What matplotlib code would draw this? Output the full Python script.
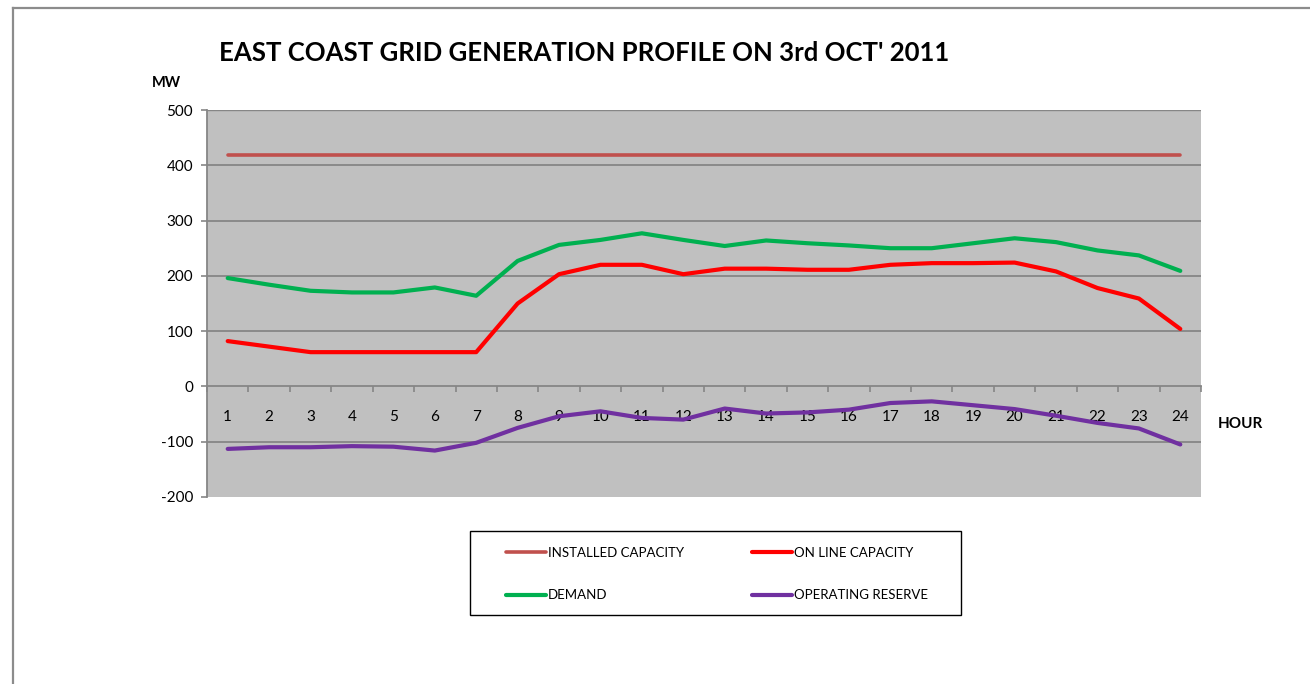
import matplotlib.pyplot as plt
from matplotlib.patches import Rectangle
from matplotlib.lines import Line2D
import numpy as np

plt.rcParams['font.family'] = ['Lato', 'DejaVu Sans']
plt.rcParams['axes.unicode_minus'] = False

hours = list(range(1, 25))
installed = [418] * 24
online = [82, 72, 62, 62, 62, 62, 62, 150, 203, 220, 220, 203,
          213, 213, 211, 211, 220, 223, 223, 224, 208, 178, 159, 104]
demand = [196, 184, 173, 170, 170, 179, 164, 227, 256, 265, 277, 265,
          254, 264, 259, 255, 250, 250, 259, 268, 261, 246, 237, 209]
reserve = [-113, -110, -110, -108, -109, -116, -102, -75, -54, -45, -57, -60,
           -40, -49, -47, -42, -30, -27, -34, -41, -53, -66, -76, -105]
yticks = [-200, -100, 0, 100, 200, 300, 400, 500]

W, H = 1310, 684
fig = plt.figure(figsize=(W / 100, H / 100), dpi=100)
ax = fig.add_axes([207 / W, 1 - 497 / H, (1201 - 207) / W, (497 - 110) / H])

grid_c = '#868686'
ax.set_facecolor('#C0C0C0')
ax.set_xlim(0.5, 24.5)
ax.set_ylim(-200, 500)
ax.set_yticks(yticks)
for y in yticks:
    if y not in (0, -200, 500):
        ax.axhline(y, color=grid_c, lw=1.3, zorder=1)
ax.axhline(500, color=grid_c, lw=1.0, zorder=1)

ax.plot(hours, installed, color='#C0504D', lw=2.6, solid_capstyle='round', label='INSTALLED CAPACITY', zorder=3)
ax.plot(hours, online, color='#FF0000', lw=3.0, solid_capstyle='round', label='ON LINE CAPACITY', zorder=3)
ax.plot(hours, demand, color='#00B050', lw=3.0, solid_capstyle='round', label='DEMAND', zorder=3)
ax.plot(hours, reserve, color='#7030A0', lw=3.0, solid_capstyle='round', label='OPERATING RESERVE', zorder=3)

for s in ['top', 'right']:
    ax.spines[s].set_visible(False)
ax.spines['bottom'].set_position(('data', 0))
ax.spines['bottom'].set_color(grid_c)
ax.spines['bottom'].set_linewidth(1.3)
ax.spines['left'].set_color(grid_c)
ax.spines['left'].set_linewidth(1.3)

# category boundaries get tick marks, labels sit at the centres
ax.set_xticks(np.arange(0.5, 25, 1))
ax.set_xticklabels([])
ax.tick_params(axis='x', which='major', direction='out', length=4, color=grid_c, width=1.2)
ax.set_xticks(hours, minor=True)
ax.set_xticklabels([str(h) for h in hours], minor=True)
ax.tick_params(axis='x', which='minor', length=0, pad=17, labelsize=11)
ax.tick_params(axis='y', direction='out', length=4, color=grid_c, width=1.2, labelsize=11, pad=6)

fig.text(219 / W, 1 - 53 / H, "EAST COAST GRID GENERATION PROFILE ON 3rd OCT' 2011",
         fontsize=18.5, fontweight='bold', va='center', ha='left')
fig.text(152 / W, 1 - 83 / H, 'MW', fontsize=10.5, fontweight='bold', va='center', ha='left')
fig.text(1218 / W, 1 - 424 / H, 'HOUR', fontsize=11, fontweight='bold', va='center', ha='left')

# legend box
fig.patches.append(Rectangle((470 / W, 1 - 615 / H), (961 - 470) / W, (615 - 531) / H,
                             transform=fig.transFigure, fill=False, edgecolor='black', lw=1.0))
handles, labels = ax.get_legend_handles_labels()
order = [0, 2, 1, 3]
fig.legend([handles[i] for i in order], [labels[i] for i in order],
           loc='upper left', bbox_to_anchor=(506 / W, 1 - 547 / H), ncol=2, frameon=False,
           fontsize=9.5, handlelength=3.0, handletextpad=0.15, columnspacing=5.2,
           labelspacing=2.3, borderpad=0, borderaxespad=0)

# outer chart border
fig.add_artist(Line2D([13 / W, 13 / W], [0, 1 - 8 / H], transform=fig.transFigure, color='#8C8C8C', lw=1.6))
fig.add_artist(Line2D([13 / W, 1], [1 - 8 / H, 1 - 8 / H], transform=fig.transFigure, color='#8C8C8C', lw=1.6))

fig.savefig('out.png', dpi=100)
